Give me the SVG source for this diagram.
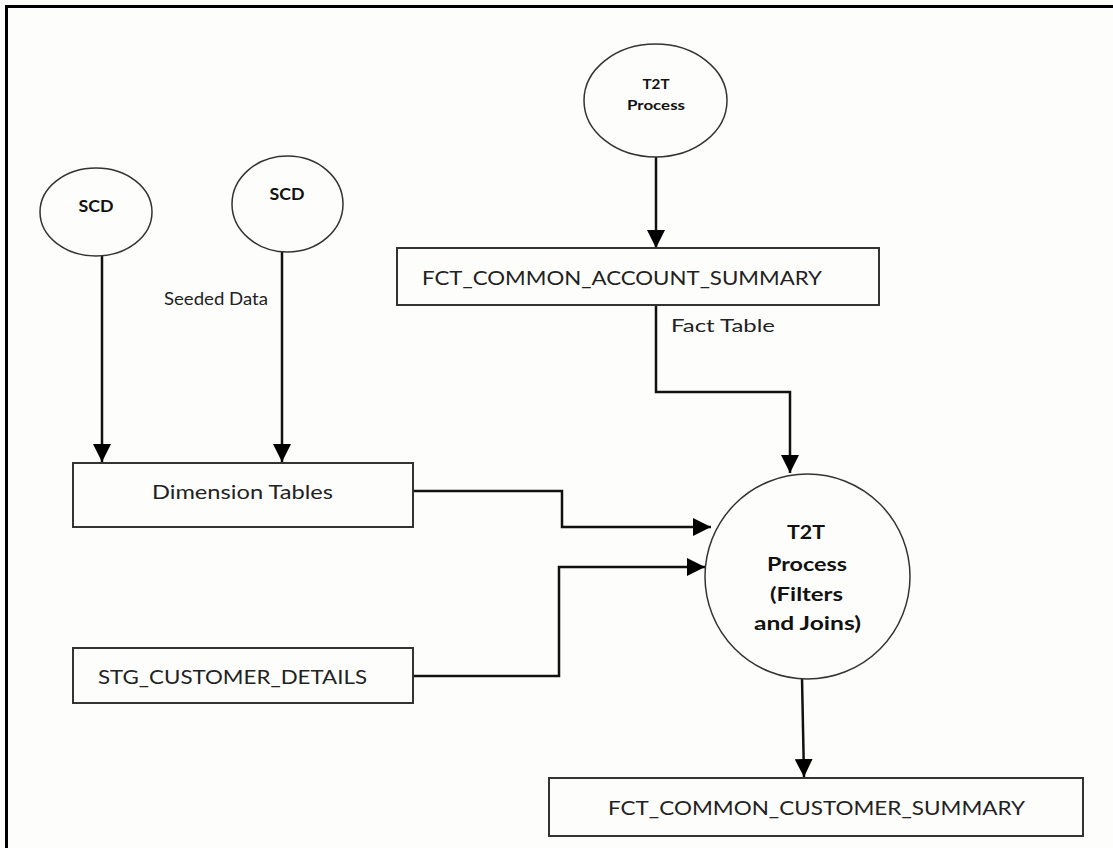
<svg xmlns="http://www.w3.org/2000/svg" width="1113" height="848" viewBox="0 0 1113 848">
<defs>
<marker id="arr" markerWidth="18" markerHeight="18" refX="18" refY="9" orient="auto" markerUnits="userSpaceOnUse">
<path d="M0,0 L18,9 L0,18 Z" fill="#000"/>
</marker>
<style>
.bg{fill:#fdfdfb}
.frame{stroke:#000;stroke-width:3;fill:none}
.box{fill:#fdfdfb;stroke:#333;stroke-width:2}
.ell{fill:#fdfdfb;stroke:#333;stroke-width:1.5}
.con{fill:none;stroke:#111;stroke-width:2.5}
.t{font-family:"Lato","Liberation Sans",Arial,sans-serif;fill:#222;text-anchor:middle;dominant-baseline:central}
.b{font-weight:bold;fill:#111}
</style>
</defs>
<rect class="bg" x="0" y="0" width="1113" height="848"/>
<path class="frame" d="M6.5,848 L6.5,6.5 L1113,6.5"/>

<g id="connectors">
<path class="con" d="M102,256 L102,462" marker-end="url(#arr)"/>
<path class="con" d="M282,252 L282,462" marker-end="url(#arr)"/>
<path class="con" d="M656,157 L656,248" marker-end="url(#arr)"/>
<path class="con" d="M656,305 L656,392 L790,392 L790,473" marker-end="url(#arr)"/>
<path class="con" d="M413,491 L562,491 L562,527 L711,527" marker-end="url(#arr)"/>
<path class="con" d="M413,676 L559,676 L559,567 L705,567" marker-end="url(#arr)"/>
<path class="con" d="M802,678 L804,777" marker-end="url(#arr)"/>
<text class="t" x="216" y="298" font-size="18" textLength="104" lengthAdjust="spacingAndGlyphs">Seeded Data</text>
<text class="t" x="723" y="325" font-size="18" textLength="104" lengthAdjust="spacingAndGlyphs">Fact Table</text>
</g>

<g id="scd1">
<ellipse class="ell" cx="96" cy="212" rx="56" ry="44"/>
<text class="t b" x="96" y="205" font-size="17" textLength="35" lengthAdjust="spacingAndGlyphs">SCD</text>
</g>

<g id="scd2">
<ellipse class="ell" cx="287.5" cy="204" rx="55.5" ry="48"/>
<text class="t b" x="287" y="193" font-size="17" textLength="35" lengthAdjust="spacingAndGlyphs">SCD</text>
</g>

<g id="t2t-top">
<ellipse class="ell" cx="655.5" cy="100.5" rx="71.5" ry="56.5"/>
<text class="t b" x="656" y="83" font-size="14" textLength="27" lengthAdjust="spacingAndGlyphs">T2T</text>
<text class="t b" x="656" y="104" font-size="14" textLength="58" lengthAdjust="spacingAndGlyphs">Process</text>
</g>

<g id="fct-account">
<rect class="box" x="397" y="248" width="482" height="57"/>
<text class="t" x="622" y="277" font-size="20" textLength="400" lengthAdjust="spacingAndGlyphs">FCT_COMMON_ACCOUNT_SUMMARY</text>
</g>

<g id="dimension">
<rect class="box" x="73" y="463" width="340" height="64"/>
<text class="t" x="242.5" y="491" font-size="20" textLength="181" lengthAdjust="spacingAndGlyphs">Dimension Tables</text>
</g>

<g id="stg">
<rect class="box" x="73" y="648" width="340" height="55"/>
<text class="t" x="232.5" y="676" font-size="20" textLength="269" lengthAdjust="spacingAndGlyphs">STG_CUSTOMER_DETAILS</text>
</g>

<g id="t2t-main">
<circle class="ell" cx="807.5" cy="576.5" r="102.5"/>
<text class="t b" x="806" y="531" font-size="19" textLength="38" lengthAdjust="spacingAndGlyphs">T2T</text>
<text class="t b" x="807" y="563" font-size="19" textLength="80" lengthAdjust="spacingAndGlyphs">Process</text>
<text class="t b" x="806.5" y="593" font-size="19" textLength="73" lengthAdjust="spacingAndGlyphs">(Filters</text>
<text class="t b" x="807.5" y="622" font-size="19" textLength="107" lengthAdjust="spacingAndGlyphs">and Joins)</text>
</g>

<g id="fct-customer">
<rect class="box" x="549" y="778" width="534" height="58"/>
<text class="t" x="816.5" y="807" font-size="20" textLength="417" lengthAdjust="spacingAndGlyphs">FCT_COMMON_CUSTOMER_SUMMARY</text>
</g>
</svg>
